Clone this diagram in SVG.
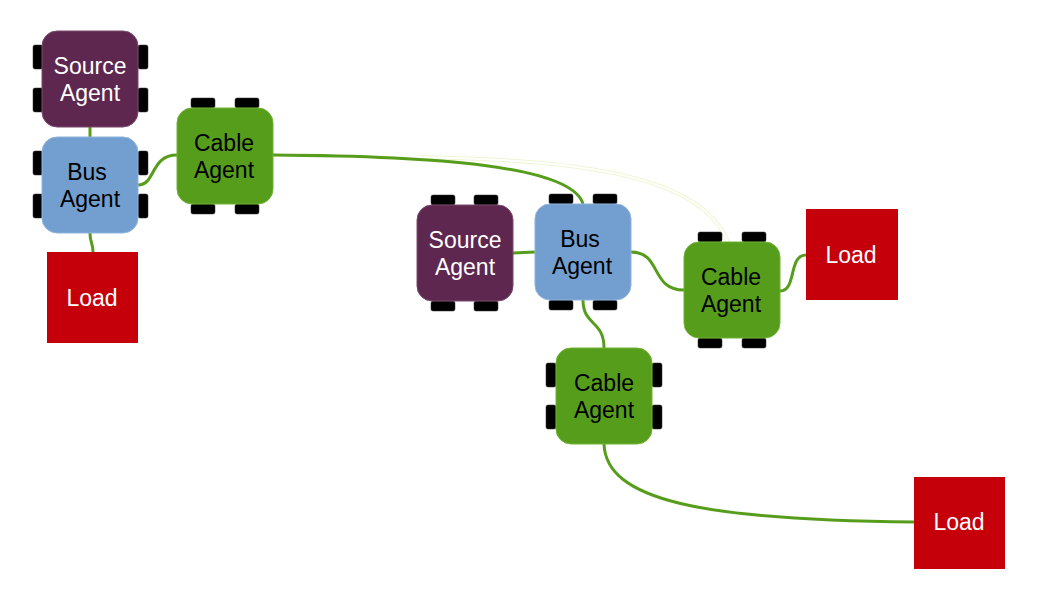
<svg xmlns="http://www.w3.org/2000/svg" width="1050" height="600" viewBox="0 0 1050 600">
<style>
.src{fill:#5e2750;stroke:#7a4a6c;stroke-width:1}
.bus{fill:#729fcf;stroke:#8db3dc;stroke-width:1}
.cab{fill:#579d1c;stroke:#6fb234;stroke-width:1}
.load{fill:#c5000b}
.wh{fill:#000;stroke:#333;stroke-width:0.5}
.t{font-family:"Liberation Sans",Arial,sans-serif;font-size:23px;text-anchor:middle}
.w{fill:#fff}
.k{fill:#000}
.c{fill:none;stroke:#579d1c;stroke-width:3}
.ghost{fill:none;stroke:#eef6d4;stroke-width:4}
.ghost2{fill:none;stroke:#fff;stroke-width:2}
</style>
<defs>
<rect id="wv" width="10" height="24" rx="2"/>
<rect id="wh" width="24" height="10" rx="2"/>
</defs>
<g id="connectors">
<path class="ghost" d="M420,157 C 560,160 700,170 728,242"/>
<path class="ghost2" d="M420,157 C 560,160 700,170 728,242"/>
<path class="c" d="M90,127 L90,137"/>
<path class="c" d="M90,233 C 90,243 93,243 93,252"/>
<path class="c" d="M138,185 C 156,185 150,155 177,155"/>
<path class="c" d="M273,155 C 430,156 572,165 583,204"/>
<path class="c" d="M513,253 L535,252"/>
<path class="c" d="M631,252 C 662,252 650,290 684,290"/>
<path class="c" d="M780,291 C 797,291 788,255 806,255"/>
<path class="c" d="M583,300 C 583,326 604,320 604,348"/>
<path class="c" d="M604,444 C 606,500 700,520 914,522"/>
</g>
<g id="source1">
<use href="#wv" class="wh" x="33" y="45"/><use href="#wv" class="wh" x="33" y="88"/>
<use href="#wv" class="wh" x="138" y="45"/><use href="#wv" class="wh" x="138" y="88"/>
<rect class="src" x="42" y="31" width="96" height="96" rx="15"/>
<text class="t w" x="90" y="74">Source</text><text class="t w" x="90" y="101">Agent</text>
</g>
<g id="bus1">
<use href="#wv" class="wh" x="33" y="151"/><use href="#wv" class="wh" x="33" y="194"/>
<use href="#wv" class="wh" x="138" y="151"/><use href="#wv" class="wh" x="138" y="194"/>
<rect class="bus" x="42" y="137" width="96" height="96" rx="15"/>
<text class="t k" x="87" y="180">Bus</text><text class="t k" x="90" y="207">Agent</text>
</g>
<g id="load1">
<rect class="load" x="47" y="252" width="91" height="91"/>
<text class="t w" x="92" y="306">Load</text>
</g>
<g id="cable1">
<use href="#wh" class="wh" x="191" y="98"/><use href="#wh" class="wh" x="235" y="98"/>
<use href="#wh" class="wh" x="191" y="204"/><use href="#wh" class="wh" x="235" y="204"/>
<rect class="cab" x="177" y="108" width="96" height="96" rx="15"/>
<text class="t k" x="224" y="151">Cable</text><text class="t k" x="224" y="178">Agent</text>
</g>
<g id="source2">
<use href="#wh" class="wh" x="431" y="195"/><use href="#wh" class="wh" x="474" y="195"/>
<use href="#wh" class="wh" x="431" y="301"/><use href="#wh" class="wh" x="474" y="301"/>
<rect class="src" x="417" y="205" width="96" height="96" rx="15"/>
<text class="t w" x="465" y="248">Source</text><text class="t w" x="465" y="275">Agent</text>
</g>
<g id="bus2">
<use href="#wh" class="wh" x="549" y="194"/><use href="#wh" class="wh" x="593" y="194"/>
<use href="#wh" class="wh" x="549" y="300"/><use href="#wh" class="wh" x="593" y="300"/>
<rect class="bus" x="535" y="204" width="96" height="96" rx="15"/>
<text class="t k" x="580" y="247">Bus</text><text class="t k" x="582" y="274">Agent</text>
</g>
<g id="cable3">
<use href="#wh" class="wh" x="698" y="232"/><use href="#wh" class="wh" x="742" y="232"/>
<use href="#wh" class="wh" x="698" y="338"/><use href="#wh" class="wh" x="742" y="338"/>
<rect class="cab" x="684" y="242" width="96" height="96" rx="15"/>
<text class="t k" x="731" y="285">Cable</text><text class="t k" x="731" y="312">Agent</text>
</g>
<g id="load2">
<rect class="load" x="806" y="209" width="92" height="91"/>
<text class="t w" x="851" y="263">Load</text>
</g>
<g id="cable2">
<use href="#wv" class="wh" x="546" y="363"/><use href="#wv" class="wh" x="546" y="405"/>
<use href="#wv" class="wh" x="652" y="363"/><use href="#wv" class="wh" x="652" y="405"/>
<rect class="cab" x="556" y="348" width="96" height="96" rx="15"/>
<text class="t k" x="604" y="391">Cable</text><text class="t k" x="604" y="418">Agent</text>
</g>
<g id="load3">
<rect class="load" x="914" y="477" width="91" height="92"/>
<text class="t w" x="959" y="530">Load</text>
</g>
</svg>
